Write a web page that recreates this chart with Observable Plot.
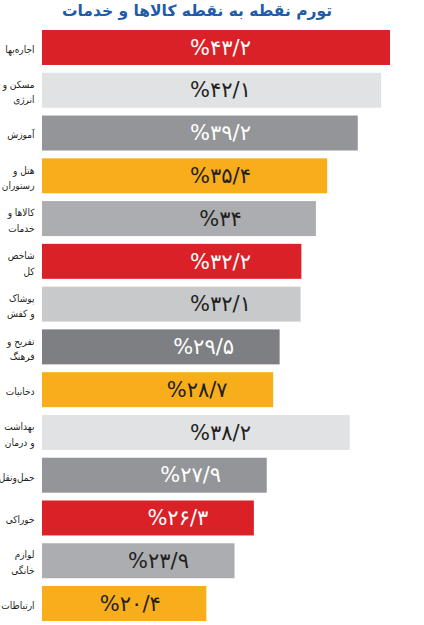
<!DOCTYPE html>
<html>
<head>
<meta charset="utf-8">
<script src="https://cdn.jsdelivr.net/npm/d3@7"></script>
<script src="https://cdn.jsdelivr.net/npm/@observablehq/plot@0.6"></script>
<style>
  body { margin: 0; background: #fff; }
  #title { width: 394px; height: 24px; line-height: 23px; text-align: center; font-family: "DejaVu Sans", sans-serif; font-weight: bold; font-size: 15.5px; color: #1e5ba8; direction: rtl; white-space: nowrap; }
  #chart svg { display: block; }
</style>
</head>
<body>
<div id="title">تورم نقطه به نقطه کالاها و خدمات</div>
<div id="chart"></div>
<script>
const categories = [
  "اجاره‌بها",
  "مسکن و\nانرژی",
  "آموزش",
  "هتل و\nرستوران",
  "کالاها و\nخدمات",
  "شاخص\nکل",
  "پوشاک\nو کفش",
  "تفریح و\nفرهنگ",
  "دخانیات",
  "بهداشت\nو درمان",
  "حمل‌ونقل",
  "خوراکی",
  "لوازم\nخانگی",
  "ارتباطات"
];
const values = [43.2, 42.1, 39.2, 35.4, 34, 32.2, 32.1, 29.5, 28.7, 38.2, 27.9, 26.3, 23.9, 20.4];

const barColors = ["#da2128", "#e1e2e4", "#939598", "#f8ad1b", "#abadb0", "#da2128", "#c8c9cb",
                   "#7e7f83", "#f8ad1b", "#e1e2e4", "#939598", "#da2128", "#abadb0", "#f8ad1b"];
const textColors = ["#ffffff", "#231f20", "#ffffff", "#231f20", "#231f20", "#ffffff", "#231f20",
                    "#ffffff", "#231f20", "#231f20", "#ffffff", "#ffffff", "#231f20", "#231f20"];

const data = categories.map((c, i) => ({category: c, value: values[i], i}));
const fa = s => s.replace(/[0-9]/g, d => "۰۱۲۳۴۵۶۷۸۹"[+d]).replace(".", "/");
const fmt = v => "%" + fa(String(v));

const chart = Plot.plot({
  width: 424,
  height: 601,
  marginLeft: 42,
  marginRight: 3.4,
  marginTop: 2.1,
  marginBottom: 0.1,
  style: {fontFamily: "DejaVu Sans, sans-serif"},
  x: {domain: [0, 47], axis: null},
  y: {domain: categories, padding: 0, round: false, axis: null},
  marks: [
    Plot.barX(data, {x: "value", y: "category", fill: d => barColors[d.i], insetTop: 3.9, insetBottom: 3.9}),
    Plot.text(data, {
      x: d => Math.min(22.1, d.value - 9.5),
      y: "category",
      text: d => fmt(d.value),
      fill: d => textColors[d.i],
      fontSize: 21,
      textAnchor: "middle"
    }),
    Plot.text(data, {
      x: 0,
      y: "category",
      text: "category",
      textAnchor: "end",
      dx: -8,
      fontSize: 10,
      lineHeight: 1.55,
      fontFamily: "DejaVu Sans Condensed, DejaVu Sans, sans-serif",
      fill: "#231f20"
    })
  ]
});
document.getElementById("chart").appendChild(chart);
</script>
</body>
</html>
